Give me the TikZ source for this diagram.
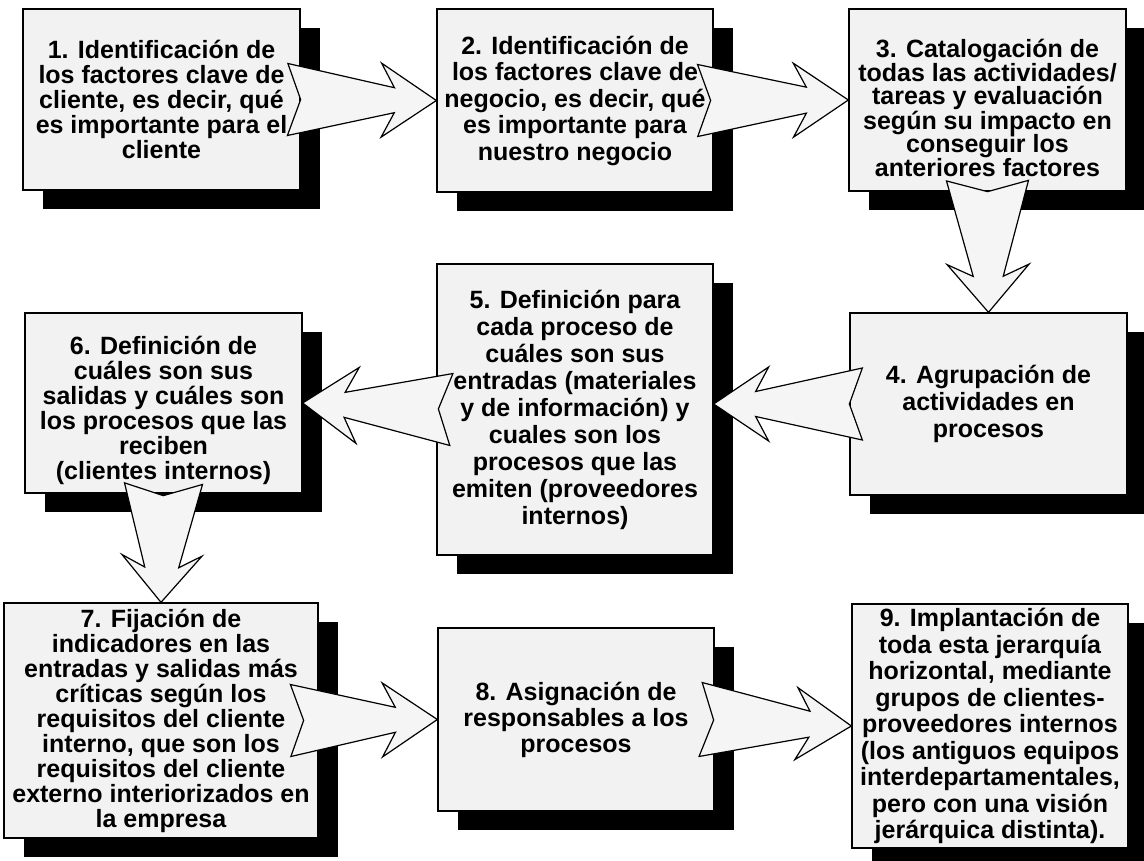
\documentclass[tikz,border=0pt]{standalone}
\usepackage{fontspec}
\setmainfont{Liberation Sans}
\usetikzlibrary{calc,shadows}

% Notched block arrow from tail centre #1 to tip #2.
% #3 tail half-width, #4 notch depth, #5 shaft-end distance from tip,
% #6 shaft half-width, #7 barb distance from tip, #8 barb half-width
\newcommand\flowarrow[8]{%
  \draw[flowarrow]
    ($(#1)!#3!90:(#2)$)
    -- ($(#2)!#5!(#1)!#6!90:(#2)$)
    -- ($(#2)!#7!(#1)!#8!90:(#2)$)
    -- (#2)
    -- ($(#2)!#7!(#1)!#8!-90:(#2)$)
    -- ($(#2)!#5!(#1)!#6!-90:(#2)$)
    -- ($(#1)!#3!-90:(#2)$)
    -- ($(#1)!#4!(#2)$)
    -- cycle;}

% centred text block lowered by #1 without changing its size
\newcommand\lowered[3]{\raisebox{-#1}[\height][\depth]{\parbox{#2}{\centering #3}}}

\begin{document}
\begin{tikzpicture}[x=1pt,y=-1pt,
  stepbox/.style={draw=black, line width=1.3pt, fill=black!5, inner sep=0pt,
    align=center, text=black, font=\fontsize{25}{25}\selectfont\bfseries,
    drop shadow={shadow xshift=20pt, shadow yshift=-19pt, fill=black, opacity=1}},
  lead/.style={font=\fontsize{25}{#1}\selectfont\bfseries},
  flowarrow/.style={draw=black, line width=1.2pt, fill=black!4, line join=miter}]

\useasboundingbox (0,0) rectangle (1144,861);

% process steps
\node[stepbox, minimum width=277pt, minimum height=181pt] (b1) at (161.5,99.5)
  {1. Identificación de\\los factores clave de\\cliente, es decir, qué\\es importante para el\\cliente};
\node[stepbox, lead=26.5, minimum width=276pt, minimum height=183pt] (b2) at (575,100.5)
  {2. Identificación de\\los factores clave de\\negocio, es decir, qué\\es importante para\\nuestro negocio};
\node[stepbox, lead=23.5, minimum width=277pt, minimum height=182pt] (b3) at (987.5,100)
  {\lowered{8pt}{277pt}{3. Catalogación de\\todas las actividades/\\tareas y evaluación\\según su impacto en\\conseguir los\\anteriores factores}};
\node[stepbox, lead=27, minimum width=277pt, minimum height=182pt] (b4) at (988.5,404)
  {4. Agrupación de\\actividades en\\procesos};
\node[stepbox, lead=27, minimum width=276pt, minimum height=291pt] (b5) at (575,409.5)
  {5. Definición para\\cada proceso de\\cuáles son sus\\entradas (materiales\\y de información) y\\cuales son los\\procesos que las\\emiten (proveedores\\internos)};
\node[stepbox, minimum width=277pt, minimum height=180pt] (b6) at (163.5,403)
  {\lowered{7pt}{277pt}{6. Definición de\\cuáles son sus\\salidas y cuáles son\\los procesos que las\\reciben\\(clientes internos)}};
\node[stepbox, minimum width=314pt, minimum height=235pt] (b7) at (161,720.5)
  {7. Fijación de\\indicadores en las\\entradas y salidas más\\críticas según los\\requisitos del cliente\\interno, que son los\\requisitos del cliente\\externo interiorizados en\\la empresa};
\node[stepbox, lead=26, minimum width=276pt, minimum height=183pt] (b8) at (576,719.5)
  {8. Asignación de\\responsables a los\\procesos};
\node[stepbox, lead=26.5, minimum width=276pt, minimum height=244pt] (b9) at (990,726)
  {9. Implantación de\\toda esta jerarquía\\horizontal, mediante\\grupos de clientes-\\proveedores internos\\(los antiguos equipos\\interdepartamentales,\\pero con una visión\\jerárquica distinta).};

% arrow tails, set into the source boxes
\coordinate (t12) at ([xshift=-13pt]b1.east);
\coordinate (t23) at ([xshift=-16pt]b2.east);
\coordinate (t34) at ([yshift=11pt]b3.south);
\coordinate (t45) at ([xshift=13pt]b4.west);
\coordinate (h45) at (b5.east |- b4.west);
\coordinate (t56) at ([xshift=15pt]b5.west);
\coordinate (t67) at ([yshift=10pt]b6.south);
\coordinate (t78) at ([xshift=-28pt]b7.east);
\coordinate (t89) at ([xshift=-14pt]b8.east);

% connecting block arrows
\flowarrow{t12}{b2.west}{36pt}{13pt}{42pt}{12.5pt}{55pt}{37pt}
\flowarrow{t23}{b3.west}{36pt}{13pt}{42pt}{13pt}{55pt}{37pt}
\flowarrow{t34}{b4.north}{41pt}{11pt}{36pt}{15pt}{48pt}{41pt}
\flowarrow{t45}{h45}{36pt}{13pt}{42pt}{12.5pt}{55pt}{37pt}
\flowarrow{t56}{b6.east}{36pt}{13pt}{42pt}{12.5pt}{55pt}{38pt}
\flowarrow{t67}{b7.north}{39pt}{12pt}{35pt}{17pt}{47pt}{40pt}
\flowarrow{t78}{b8.west}{36pt}{13pt}{42pt}{12.5pt}{55pt}{37pt}
\flowarrow{t89}{b9.west}{37pt}{13pt}{42pt}{13pt}{55pt}{36pt}
\end{tikzpicture}
\end{document}
